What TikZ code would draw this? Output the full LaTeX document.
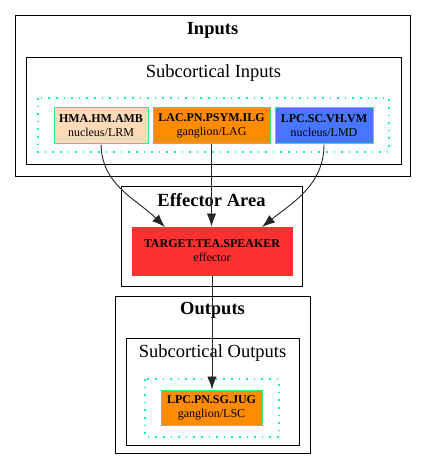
\documentclass[tikz,border=0pt]{standalone}
\usepackage{fontspec}
\setmainfont{Liberation Serif}
\usetikzlibrary{arrows.meta}
\definecolor{nodeedge}{RGB}{40,240,150}
\definecolor{dotcol}{RGB}{20,245,170}
\definecolor{peach}{RGB}{255,218,185}
\definecolor{dorange}{RGB}{255,140,0}
\definecolor{rblue}{RGB}{72,118,255}
\definecolor{fred}{RGB}{255,48,48}
\tikzset{
  cluster/.style={draw=black, line width=0.8pt},
  dotbox/.style={draw=dotcol, line width=1.6pt, dash pattern=on 1.6pt off 6pt},
  ctitle/.style={font=\fontsize{18.5}{20}\selectfont\bfseries, inner sep=0},
  stitle/.style={font=\fontsize{18.5}{20}\selectfont, inner sep=0},
  nbox/.style={draw=nodeedge, line width=1pt, inner sep=0, align=center, font=\fontsize{12}{14}\selectfont},
  conn/.style={-{Latex[length=13pt,width=9.5pt]}, line width=0.9pt, black!85}
}
\begin{document}
\begin{tikzpicture}[x=1pt,y=-1pt]
\useasboundingbox (0,0) rectangle (427,473);
% clusters
\draw[cluster] (15,15) rectangle (410,176);
\node[ctitle] (tin) at (212.5,30) {Inputs};
\draw[cluster] (26,57) rectangle (401,164);
\node[stitle] (tsin) at (213.5,73) {Subcortical Inputs};
\draw[dotbox] (38,98) rectangle (389,152);

\draw[cluster] (121,186) rectangle (302,286);
\node[ctitle] (teff) at (211.5,200) {Effector Area};

\draw[cluster] (115,296) rectangle (310,453);
\node[ctitle] (tout) at (212.5,310) {Outputs};
\draw[cluster] (126,338) rectangle (299,445);
\node[stitle] (tsout) at (212.5,353) {Subcortical Outputs};
\draw[dotbox] (145,379) rectangle (279,437);

% nodes
\node[nbox, fill=peach, minimum width=94pt, minimum height=36pt] (hma) at (101,126) {\textbf{HMA.HM.AMB}\\nucleus/LRM};
\node[nbox, fill=dorange, minimum width=117pt, minimum height=36pt] (lac) at (211.5,126) {\textbf{LAC.PN.PSYM.ILG}\\ganglion/LAG};
\node[nbox, fill=rblue, minimum width=98pt, minimum height=36pt] (lpc) at (324,126) {\textbf{LPC.SC.VH.VM}\\nucleus/LMD};
\node[nbox, draw=fred, fill=fred, minimum width=160pt, minimum height=48pt] (tgt) at (212,251) {\textbf{TARGET.TEA.SPEAKER}\\effector};
\node[nbox, fill=dorange, minimum width=101pt, minimum height=35pt] (out) at (211.5,407.5) {\textbf{LPC.PN.SG.JUG}\\ganglion/LSC};

% connectors
\draw[conn] (hma.south) .. controls (102,185) and (135,198) .. (165,227);
\draw[conn] (lac.south) -- (lac.south |- tgt.north);
\draw[conn] (lpc.south) .. controls (324,185) and (292,203) .. (262,227);
\draw[conn] (tgt.south) -- (tgt.south |- out.north);
\end{tikzpicture}
\end{document}
